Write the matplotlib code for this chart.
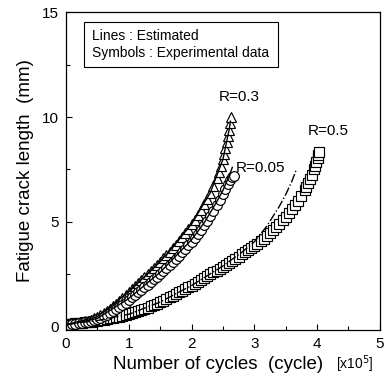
import matplotlib.pyplot as plt
from matplotlib.patches import Rectangle
from matplotlib.ticker import MultipleLocator

plt.rcParams['font.family'] = ['Liberation Sans', 'DejaVu Sans']

# experimental data, cycles in 1e5, crack length in mm
n_r05 = [0.00, 0.05, 0.10, 0.15, 0.20, 0.25, 0.30, 0.35, 0.40, 0.45, 0.50, 0.55,
         0.60, 0.65, 0.70, 0.75, 0.80, 0.85, 0.90, 0.95, 1.00, 1.05, 1.10, 1.15,
         1.20, 1.25, 1.30, 1.35, 1.40, 1.45, 1.50, 1.55, 1.60, 1.65, 1.70, 1.75,
         1.80, 1.85, 1.90, 1.95, 2.00, 2.05, 2.10, 2.15, 2.20, 2.25, 2.30, 2.35,
         2.40, 2.45, 2.50, 2.55, 2.60, 2.65, 2.70, 2.75, 2.80, 2.85, 2.90, 2.95,
         3.00, 3.05, 3.10, 3.15, 3.20, 3.25, 3.30, 3.35, 3.40, 3.45, 3.50, 3.55,
         3.60, 3.65, 3.70, 3.75, 3.80, 3.83, 3.86, 3.89, 3.92, 3.95, 3.97, 3.99,
         4.01, 4.02, 4.03]
a_r05 = [0.12, 0.13, 0.15, 0.16, 0.18, 0.19, 0.21, 0.23, 0.25, 0.27, 0.30, 0.32,
         0.35, 0.37, 0.40, 0.43, 0.46, 0.49, 0.53, 0.56, 0.60, 0.64, 0.69, 0.74,
         0.79, 0.85, 0.91, 0.97, 1.04, 1.11, 1.18, 1.25, 1.33, 1.40, 1.48, 1.56,
         1.64, 1.72, 1.80, 1.88, 1.97, 2.05, 2.14, 2.23, 2.32, 2.41, 2.50, 2.59,
         2.68, 2.77, 2.86, 2.95, 3.05, 3.15, 3.25, 3.35, 3.45, 3.55, 3.65, 3.75,
         3.85, 3.96, 4.08, 4.20, 4.33, 4.46, 4.60, 4.75, 4.90, 5.07, 5.25, 5.43,
         5.62, 5.82, 6.02, 6.25, 6.50, 6.68, 6.86, 7.05, 7.26, 7.50, 7.68, 7.86,
         8.05, 8.20, 8.35]

n_r03 = [0.00, 0.05, 0.10, 0.15, 0.20, 0.25, 0.30, 0.35, 0.40, 0.45, 0.50, 0.55,
         0.60, 0.65, 0.70, 0.75, 0.80, 0.85, 0.90, 0.95, 1.00, 1.05, 1.10, 1.15,
         1.20, 1.25, 1.30, 1.35, 1.40, 1.45, 1.50, 1.55, 1.60, 1.65, 1.70, 1.75,
         1.80, 1.85, 1.90, 1.95, 2.00, 2.05, 2.10, 2.15, 2.20, 2.25, 2.30, 2.35,
         2.40, 2.44, 2.47, 2.50, 2.52, 2.54, 2.56, 2.58, 2.60, 2.615, 2.63]
a_r03 = [0.10, 0.12, 0.14, 0.16, 0.19, 0.22, 0.26, 0.30, 0.35, 0.41, 0.48, 0.56,
         0.65, 0.75, 0.86, 0.98, 1.11, 1.25, 1.39, 1.54, 1.68, 1.82, 1.96, 2.10,
         2.24, 2.38, 2.52, 2.66, 2.80, 2.95, 3.10, 3.26, 3.42, 3.58, 3.75, 3.92,
         4.10, 4.29, 4.48, 4.68, 4.89, 5.11, 5.34, 5.58, 5.84, 6.11, 6.40, 6.72,
         7.08, 7.40, 7.68, 7.98, 8.25, 8.52, 8.80, 9.10, 9.40, 9.70, 10.0]

n_r005 = [0.00, 0.05, 0.10, 0.15, 0.20, 0.25, 0.30, 0.35, 0.40, 0.45, 0.50, 0.55,
          0.60, 0.65, 0.70, 0.75, 0.80, 0.85, 0.90, 0.95, 1.00, 1.05, 1.10, 1.15,
          1.20, 1.25, 1.30, 1.35, 1.40, 1.45, 1.50, 1.55, 1.60, 1.65, 1.70, 1.75,
          1.80, 1.85, 1.90, 1.95, 2.00, 2.05, 2.10, 2.15, 2.20, 2.25, 2.30, 2.35,
          2.40, 2.45, 2.50, 2.54, 2.58, 2.62, 2.65, 2.68]
a_r005 = [0.08, 0.10, 0.12, 0.14, 0.16, 0.19, 0.22, 0.25, 0.29, 0.33, 0.38, 0.44,
          0.50, 0.57, 0.65, 0.74, 0.84, 0.94, 1.05, 1.16, 1.28, 1.40, 1.52, 1.64,
          1.76, 1.88, 2.00, 2.13, 2.26, 2.39, 2.52, 2.66, 2.80, 2.94, 3.09, 3.24,
          3.39, 3.55, 3.71, 3.88, 4.05, 4.23, 4.42, 4.62, 4.83, 5.05, 5.28, 5.53,
          5.79, 6.06, 6.34, 6.58, 6.80, 7.00, 7.12, 7.20]

# estimated curves
est_n_r05 = [0.0, 0.5, 1.0, 1.5, 2.0, 2.5, 2.8, 3.0, 3.2, 3.4, 3.5, 3.6, 3.67]
est_a_r05 = [0.12, 0.30, 0.60, 1.18, 1.97, 2.90, 3.55, 4.05, 4.80, 5.75, 6.30, 6.95, 7.50]

est_n_r03 = [0.0, 0.5, 1.0, 1.5, 2.0, 2.3, 2.5, 2.6, 2.62]
est_a_r03 = [0.10, 0.48, 1.68, 3.10, 4.89, 6.40, 7.98, 9.40, 9.80]

est_n_r005 = [0.0, 0.5, 1.0, 1.5, 2.0, 2.2, 2.4, 2.5, 2.6, 2.65]
est_a_r005 = [0.08, 0.40, 1.35, 2.60, 4.15, 4.95, 5.95, 6.50, 7.20, 7.60]

fig = plt.figure(figsize=(3.88, 3.78), dpi=100)
ax = fig.add_axes([0.170, 0.127, 0.809, 0.841])

mk = dict(linestyle='none', markerfacecolor='white', markeredgecolor='black',
          markeredgewidth=0.85)
ax.plot(n_r05, a_r05, marker='s', markersize=7.5, **mk)
ax.plot(n_r03, a_r03, marker='^', markersize=7, **mk)
ax.plot(n_r005, a_r005, marker='o', markersize=7, **mk)

ax.plot(est_n_r05, est_a_r05, color='black', lw=1.0, linestyle='-.')
ax.plot(est_n_r03, est_a_r03, color='black', lw=1.0)
ax.plot(est_n_r005, est_a_r005, color='black', lw=1.0)

ax.text(2.755, 10.97, 'R=0.3', fontsize=11, ha='center', va='center')
ax.text(3.105, 7.59, 'R=0.05', fontsize=11, ha='center', va='center')
ax.text(4.18, 9.35, 'R=0.5', fontsize=11, ha='center', va='center')

ax.set_xlim(0, 5)
ax.set_ylim(-0.15, 15)
ax.xaxis.set_major_locator(MultipleLocator(1))
ax.xaxis.set_minor_locator(MultipleLocator(0.5))
ax.yaxis.set_major_locator(MultipleLocator(5))
ax.yaxis.set_minor_locator(MultipleLocator(2.5))
ax.tick_params(which='both', direction='in', labelsize=11, width=0.8)
ax.tick_params(which='major', length=4.5, pad=5)
ax.tick_params(which='minor', length=3)
for s in ax.spines.values():
    s.set_linewidth(0.9)

ax.set_ylabel('Fatigue crack length  (mm)', fontsize=13.5, labelpad=6)
ax.text(0.484, -0.107, 'Number of cycles  (cycle)', fontsize=13.5,
        ha='center', va='center', transform=ax.transAxes)
ax.text(0.92, -0.107, r'[x10$^5$]', fontsize=10, ha='center', va='center',
        transform=ax.transAxes)

# note box in the upper left corner
ax.add_patch(Rectangle((0.0573, 0.827), 0.6177, 0.1416, transform=ax.transAxes,
                       facecolor='white', edgecolor='black', lw=0.8, zorder=3))
ax.text(0.0828, 0.926, 'Lines : Estimated', fontsize=10, va='center',
        transform=ax.transAxes, zorder=4)
ax.text(0.0828, 0.871, 'Symbols : Experimental data', fontsize=10, va='center',
        transform=ax.transAxes, zorder=4)

fig.savefig('out.png', dpi=100)
